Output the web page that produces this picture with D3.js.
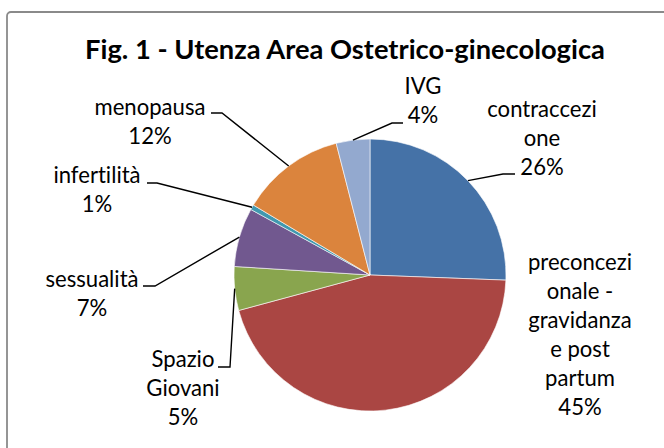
<!DOCTYPE html>
<html>
<head>
<meta charset="utf-8">
<script src="https://cdn.jsdelivr.net/npm/d3@7"></script>
<style>
  html, body { margin: 0; padding: 0; background: #fff; }
  svg { display: block; }
  text { font-variant-ligatures: none; font-feature-settings: "liga" 0, "clig" 0; }
</style>
</head>
<body>
<script>
// ---- data ----
const categories = ["contraccezione", "preconcezionale - gravidanza e post partum", "Spazio Giovani", "sessualità", "infertilità", "menopausa", "IVG"];
const values = [25.6, 45.2, 5.2, 7.0, 0.6, 12.4, 4.0];
const labelLines = [
  ["contraccezi", "one"],
  ["preconcezi", "onale -", "gravidanza", "e post", "partum"],
  ["Spazio", "Giovani"],
  ["sessualità"],
  ["infertilità"],
  ["menopausa"],
  ["IVG"]
];
const percentLabels = ["26%", "45%", "5%", "7%", "1%", "12%", "4%"];
const colors = ["#4572A7", "#AA4643", "#89A54E", "#71588F", "#4198AF", "#DB843D", "#93A9CF"];
const title = "Fig. 1 - Utenza Area Ostetrico-ginecologica";

// ---- layout ----
const W = 664, H = 448;
const cx = 370, cy = 275, R = 136;
const lineH = 29;
// label: center x, first baseline y, leader elbow + end (null = no leader)
const labelLayout = [
  { x: 542, y: 117, leader: [[503, 174], [515, 174]] },
  { x: 580, y: 270, leader: null },
  { x: 183, y: 367, leader: [[230, 367], [218, 367]] },
  { x: 92,  y: 287, leader: [[155, 286], [143, 286]] },
  { x: 97,  y: 183, leader: [[157, 183], [147, 183]] },
  { x: 150, y: 115, leader: [[222, 113], [211, 113]] },
  { x: 423, y: 94,  leader: [[392, 123], [403, 123]] }
];

const svg = d3.select("body").append("svg").attr("width", W).attr("height", H);
svg.append("rect").attr("width", W).attr("height", H).attr("fill", "#fff");

// chart border
svg.append("rect")
  .attr("x", 7).attr("y", 12).attr("width", 720).attr("height", 520)
  .attr("rx", 4)
  .attr("fill", "none").attr("stroke", "#8a8a8a").attr("stroke-width", 1.8);

const fontFam = "Lato, 'Open Sans', 'Liberation Sans', sans-serif";

// fit font sizes by measurement
function measure(text, size, weight) {
  const t = svg.append("text").attr("font-family", fontFam).attr("font-size", size)
    .attr("font-weight", weight).text(text);
  const w = t.node().getComputedTextLength();
  t.remove();
  return w;
}
const titleSize = 100 * 520 / measure(title, 100, "bold");
const labelSize = 100 * 111 / measure("menopausa", 100, "normal");

svg.append("text")
  .attr("x", 345).attr("y", 59)
  .attr("text-anchor", "middle")
  .attr("font-family", fontFam).attr("font-weight", "bold")
  .attr("font-size", titleSize)
  .attr("fill", "#000")
  .text(title);

// pie
const pie = d3.pie().sort(null).value(d => d)(values);
const arc = d3.arc().innerRadius(0).outerRadius(R);
const edgeArc = d3.arc().innerRadius(R).outerRadius(R);

const g = svg.append("g").attr("transform", `translate(${cx},${cy})`);
g.selectAll("path.slice").data(pie).enter().append("path")
  .attr("class", "slice")
  .attr("d", arc)
  .attr("fill", (d, i) => colors[i])
  .attr("stroke", "#fff").attr("stroke-width", 0.6);

// leaders
pie.forEach((d, i) => {
  const L = labelLayout[i];
  if (!L.leader) return;
  const c = edgeArc.centroid(d);
  const pts = [[cx + c[0], cy + c[1]]].concat(L.leader);
  svg.append("path")
    .attr("d", d3.line()(pts))
    .attr("fill", "none").attr("stroke", "#000").attr("stroke-width", 1.4);
});

// labels
pie.forEach((d, i) => {
  const L = labelLayout[i];
  const lines = labelLines[i].concat([percentLabels[i]]);
  const t = svg.append("text")
    .attr("text-anchor", "middle")
    .attr("font-family", fontFam).attr("font-size", labelSize)
    .attr("fill", "#000");
  lines.forEach((ln, k) => {
    t.append("tspan").attr("x", L.x).attr("y", L.y + k * lineH).text(ln);
  });
});
</script>
</body>
</html>
